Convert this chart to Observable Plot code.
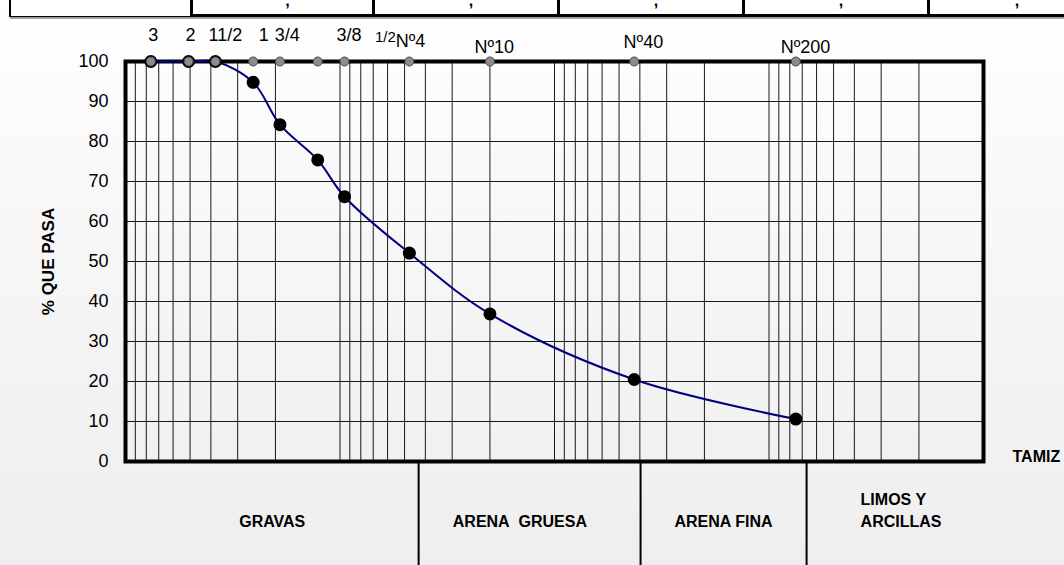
<!DOCTYPE html>
<html>
<head>
<meta charset="utf-8">
<script src="https://cdn.jsdelivr.net/npm/d3@7"></script>
<script src="https://cdn.jsdelivr.net/npm/@observablehq/plot@0.6"></script>
<style>
  html, body { margin: 0; padding: 0; }
  body {
    width: 1064px; height: 565px; overflow: hidden; position: relative;
    background: linear-gradient(to bottom, #ffffff 0%, #f8f8f8 35%, #eeeeee 100%);
    font-family: "Liberation Sans", Arial, sans-serif;
  }
  #chart { position: absolute; left: 0; top: 0; }
  #tabla { position: absolute; left: 0; top: 0; width: 1064px; height: 20px; }
  #tabla .linea { position: absolute; left: 10px; right: 0; top: 17px; height: 2px; background: #a0a0a0; }
  #tabla .celda0 { position: absolute; left: 9px; top: -10px; width: 181px; height: 27px;
    border-left: 2px solid #000; border-bottom: 1px solid #000; background: #fff; box-sizing: border-box; }
  #tabla .celda { position: absolute; top: -10px; width: 185px; height: 27px; box-sizing: border-box;
    border: 3px solid #000; border-top: none; background: #fff; overflow: hidden; }
  #tabla .celda span { position: absolute; left: 0; right: 0; text-align: center; top: 2px;
    font-size: 16px; font-weight: bold; line-height: 18px; padding-left: 10px; }
</style>
</head>
<body>
<div id="chart"></div>
<div id="tabla"></div>
<script>
// ---- Datos ----
const tamices   = ['3"', '2"', '1 1/2"', '1"', '3/4"', '1/2"', '3/8"', "Nº4", "Nº10", "Nº40", "Nº200"];
const aberturas = [76.2, 50.8, 38.1, 25.4, 19.05, 12.7, 9.525, 4.75, 2.0, 0.425, 0.075]; // mm
const pasa      = [100, 100, 100, 94.8, 84.2, 75.4, 66.2, 52.1, 36.9, 20.5, 10.6];      // % que pasa

// Etiquetas de tamices (texto y ubicación en mm sobre el eje)
const etiquetas   = ["3", "2", "11/2", "1", "3/4", "3/8", "1/2", "Nº4", "Nº10", "Nº40", "Nº200"];
const etiquetasMm = [74.3, 49.8, 34.2, 22.7, 17.6, 9.08, 6.14, 4.69, 1.91, 0.385, 0.0676];

const yTicks = [0, 10, 20, 30, 40, 50, 60, 70, 80, 90, 100];

// Zonas granulométricas
const zonas         = ["GRAVAS", "ARENA\u00A0 GRUESA", "ARENA FINA", "LIMOS Y\nARCILLAS"];
const limitesZonas  = [100, 4.3, 0.397, 0.0668, 0.01]; // mm
const zonasMm       = [20.7, 1.45, 0.163, 0.026];      // centro aproximado de cada rótulo

// Celdas de la tabla superior (cortada)
const celdasTabla = [",", ",", ",", ",", ","];

// ---- Construcción ----
const datos = aberturas.map((mm, i) => ({mm, pasa: pasa[i], tamiz: tamices[i]}));
const etq = etiquetas.map((t, i) => ({t, mm: etiquetasMm[i]}));
const etqPulg = etq.slice(0, 6);
const etqMedio = etq.slice(6, 7);
const etqN4 = etq.slice(7, 8);
const etqN = [etq[8], etq[10]];
const etqN40 = [etq[9]];
const zonasDatos = zonas.map((z, i) => ({z, mm: zonasMm[i]}));
const divisiones = limitesZonas.slice(1, -1);

const fuente = '"Liberation Sans", Arial, sans-serif';

const chart = Plot.plot({
  width: 1064,
  height: 565,
  marginLeft: 125,
  marginRight: 81,
  marginTop: 61,
  marginBottom: 104,
  style: {background: "transparent", fontFamily: fuente, fontSize: "18px", color: "black", overflow: "visible"},
  x: {type: "log", domain: [100, 0.01], axis: null},
  y: {domain: [0, 100], axis: null},
  marks: [
    Plot.gridX({stroke: "black", strokeOpacity: 0.9, strokeWidth: 1}),
    Plot.gridY(yTicks.slice(1, -1), {stroke: "black", strokeOpacity: 0.9, strokeWidth: 1}),
    Plot.axisY({ticks: yTicks, tickSize: 0, tickPadding: 17, fontSize: 18, label: null}),
    Plot.ruleX(divisiones, {insetTop: 400, insetBottom: -104, stroke: "black", strokeWidth: 2}),
    Plot.frame({stroke: "black", strokeWidth: 4}),
    Plot.line(datos, {x: "mm", y: "pasa", curve: "catmull-rom", stroke: "#000080", strokeWidth: 2}),
    Plot.dot(datos, {x: "mm", y: "pasa", r: 6.5, fill: "black"}),
    Plot.dot(datos, {x: "mm", frameAnchor: "top", r: 4.5, fill: "#8c8c8c", stroke: "#4a4a4a", strokeWidth: 1}),
    Plot.text(etqPulg, {x: "mm", text: "t", frameAnchor: "top", lineAnchor: "bottom", dy: -21, fontSize: 18}),
    Plot.text(etqMedio, {x: "mm", text: "t", frameAnchor: "top", lineAnchor: "bottom", dy: -20, fontSize: 15}),
    Plot.text(etqN4, {x: "mm", text: "t", frameAnchor: "top", lineAnchor: "bottom", dy: -15, fontSize: 18}),
    Plot.text(etqN, {x: "mm", text: "t", frameAnchor: "top", lineAnchor: "bottom", dy: -9, fontSize: 18}),
    Plot.text(etqN40, {x: "mm", text: "t", frameAnchor: "top", lineAnchor: "bottom", dy: -14, fontSize: 18}),
    Plot.text(["% QUE PASA"], {text: d => d, frameAnchor: "left", textAnchor: "middle", dx: -77, rotate: -90, fontWeight: "bold", fontSize: 17}),
    Plot.text(["TAMIZ"], {text: d => d, frameAnchor: "bottom-right", textAnchor: "start", dx: 29, fontWeight: "bold", fontSize: 16}),
    Plot.text(zonasDatos.slice(0, 3), {x: "mm", text: "z", frameAnchor: "bottom", lineAnchor: "bottom", dy: 65, fontWeight: "bold", fontSize: 16}),
    Plot.text(zonasDatos.slice(3), {x: limitesZonas[3], text: "z", frameAnchor: "bottom", lineAnchor: "bottom", textAnchor: "start", dx: 54, dy: 65, fontWeight: "bold", fontSize: 16, lineHeight: 1.35})
  ]
});
document.getElementById("chart").appendChild(chart);

// Tabla superior cortada
const tabla = document.getElementById("tabla");
const linea = document.createElement("div"); linea.className = "linea"; tabla.appendChild(linea);
const c0 = document.createElement("div"); c0.className = "celda0"; tabla.appendChild(c0);
celdasTabla.forEach((txt, i) => {
  const c = document.createElement("div");
  c.className = "celda";
  c.style.left = (190 + i * 185) + "px";
  if (i > 0) c.style.borderLeft = "none";
  if (i === celdasTabla.length - 1) c.style.width = "167px";
  const s = document.createElement("span");
  s.textContent = txt;
  c.appendChild(s);
  tabla.appendChild(c);
});
</script>
</body>
</html>
